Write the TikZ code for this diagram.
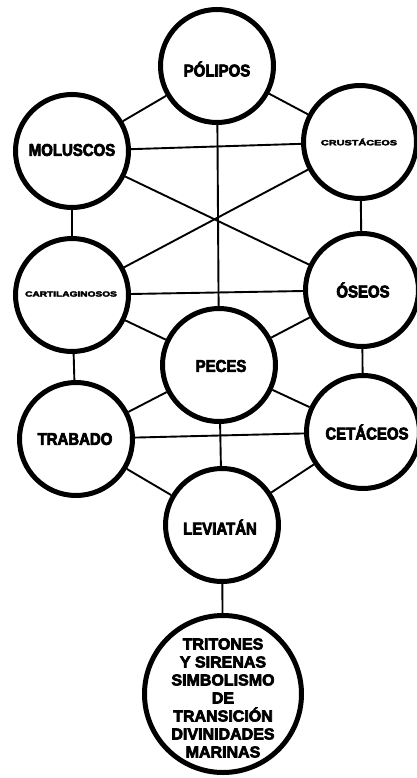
\documentclass[tikz,border=0pt]{standalone}
\usepackage{fontspec}
\newfontfamily\lblfont[FakeBold=4,FakeStretch=0.88]{Liberation Sans Bold}
\newfontfamily\lblfontw[FakeBold=4]{Liberation Sans Bold}
\begin{document}
\begin{tikzpicture}[x=1pt,y=-1pt,
  circ/.style={circle,draw=black,line width=5pt,inner sep=0pt,minimum size=113pt},
  bigcirc/.style={circle,draw=black,line width=5pt,inner sep=0pt,minimum size=157pt},
  lbl/.style={inner sep=0pt,font=\lblfont\fontsize{17}{17}\selectfont},
  small/.style={inner sep=0pt,font=\lblfontw\fontsize{7.5}{7.5}\selectfont},
  btxt/.style={inner sep=0pt,align=center,font=\lblfontw\fontsize{16}{18}\selectfont},
  conn/.style={line width=1.9pt,black}]
\useasboundingbox (0,0) rectangle (417,778);
\node[circ] (pol) at (217,66) {};
\node[circ] (mol) at (72,151) {};
\node[circ] (cru) at (360,142) {};
\node[circ] (car) at (72,295) {};
\node[circ] (ose) at (362,290) {};
\node[circ] (pec) at (219,365) {};
\node[circ] (tra) at (76,439) {};
\node[circ] (cet) at (363,432) {};
\node[circ] (lev) at (222,525) {};
\node[bigcirc] (tri) at (223,694) {};

\node[lbl] (polt) at (217,69) {PÓLIPOS};
\node[lbl] (molt) at (72,150) {MOLUSCOS};
\node[small] (crut) at (359,142) {\scalebox{1.45}[1]{CRUSTÁCEOS}};
\node[small] (cart) at (71,294) {\scalebox{1.35}[1]{CARTILAGINOSOS}};
\node[lbl] (oset) at (363,290) {ÓSEOS};
\node[lbl] (pect) at (221,366) {PECES};
\node[lbl] (trat) at (75,439) {TRABADO};
\node[lbl] (cett) at (367,432) {CETÁCEOS};
\node[lbl] (levt) at (220,527) {LEVIATÁN};
\node[btxt] (trit) at (223,698) {TRITONES\\Y SIRENAS\\SIMBOLISMO\\DE\\TRANSICIÓN\\DIVINIDADES\\MARINAS};

\draw[conn] (pol) -- (mol);
\draw[conn] (pol) -- (cru);
\draw[conn] (pol) -- (pec);
\draw[conn] (mol) -- (cru);
\draw[conn] (mol) -- (ose);
\draw[conn] (cru) -- (car);
\draw[conn] (mol) -- (car);
\draw[conn] (cru) -- (ose);
\draw[conn] (car) -- (ose);
\draw[conn] (car) -- (pec);
\draw[conn] (ose) -- (pec);
\draw[conn] (car) -- (tra);
\draw[conn] (ose) -- (cet);
\draw[conn] (pec) -- (tra);
\draw[conn] (pec) -- (cet);
\draw[conn] (tra) -- (cet);
\draw[conn] (pec) -- (lev);
\draw[conn] (tra) -- (lev);
\draw[conn] (cet) -- (lev);
\draw[conn] (lev) -- (tri);
\end{tikzpicture}
\end{document}
